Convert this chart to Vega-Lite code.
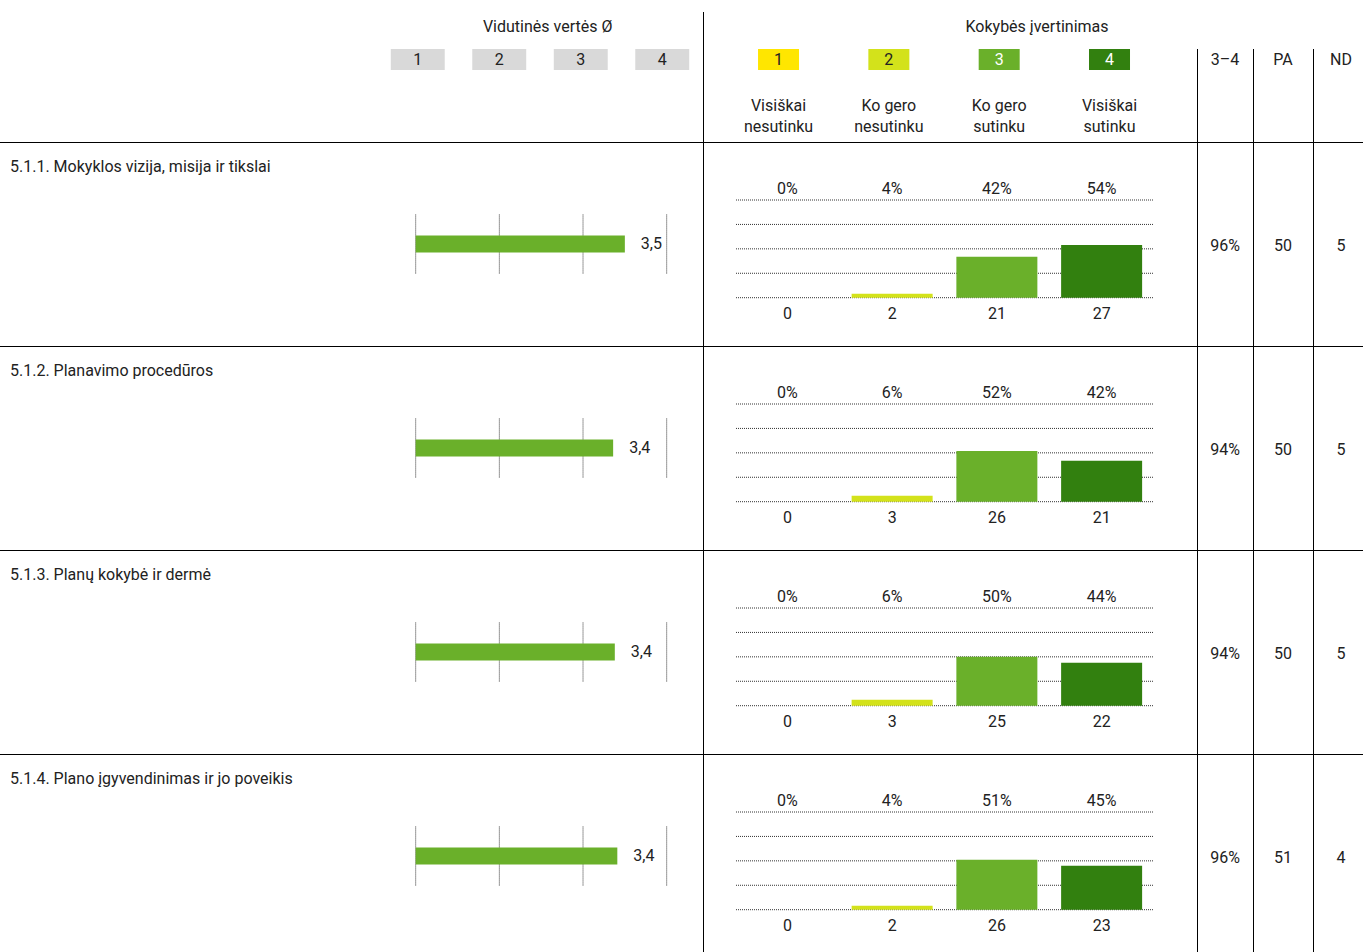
{
  "$schema": "https://vega.github.io/schema/vega-lite/v6.json",
  "padding": 0,
  "background": "#ffffff",
  "spacing": 0,
  "config": {
    "view": {"stroke": null},
    "font": "Roboto",
    "text": {"font": "Roboto", "fontSize": 16, "color": "#222222"},
    "rect": {"color": "#000000"}
  },
  "datasets": {
    "headers": [
      {"left": "Vidutinės vertės Ø", "right": "Kokybės įvertinimas", "h34": "3–4", "hpa": "PA", "hnd": "ND"}
    ],
    "levels": [
      {"rating": 1, "name": ["Visiškai", "nesutinku"]},
      {"rating": 2, "name": ["Ko gero", "nesutinku"]},
      {"rating": 3, "name": ["Ko gero", "sutinku"]},
      {"rating": 4, "name": ["Visiškai", "sutinku"]}
    ],
    "items": [
      {"item": "5.1.1", "label": "5.1.1. Mokyklos vizija, misija ir tikslai", "mean": 3.5, "meanLabel": "3,5", "share34": "96%", "pa": 50, "nd": 5},
      {"item": "5.1.2", "label": "5.1.2. Planavimo procedūros", "mean": 3.36, "meanLabel": "3,4", "share34": "94%", "pa": 50, "nd": 5},
      {"item": "5.1.3", "label": "5.1.3. Planų kokybė ir dermė", "mean": 3.38, "meanLabel": "3,4", "share34": "94%", "pa": 50, "nd": 5},
      {"item": "5.1.4", "label": "5.1.4. Plano įgyvendinimas ir jo poveikis", "mean": 3.41, "meanLabel": "3,4", "share34": "96%", "pa": 51, "nd": 4}
    ],
    "ratings": [
      {"item": "5.1.1", "rating": 1, "n": 0, "pct": 0, "pctLabel": "0%"},
      {"item": "5.1.1", "rating": 2, "n": 2, "pct": 4, "pctLabel": "4%"},
      {"item": "5.1.1", "rating": 3, "n": 21, "pct": 42, "pctLabel": "42%"},
      {"item": "5.1.1", "rating": 4, "n": 27, "pct": 54, "pctLabel": "54%"},
      {"item": "5.1.2", "rating": 1, "n": 0, "pct": 0, "pctLabel": "0%"},
      {"item": "5.1.2", "rating": 2, "n": 3, "pct": 6, "pctLabel": "6%"},
      {"item": "5.1.2", "rating": 3, "n": 26, "pct": 52, "pctLabel": "52%"},
      {"item": "5.1.2", "rating": 4, "n": 21, "pct": 42, "pctLabel": "42%"},
      {"item": "5.1.3", "rating": 1, "n": 0, "pct": 0, "pctLabel": "0%"},
      {"item": "5.1.3", "rating": 2, "n": 3, "pct": 6, "pctLabel": "6%"},
      {"item": "5.1.3", "rating": 3, "n": 25, "pct": 50, "pctLabel": "50%"},
      {"item": "5.1.3", "rating": 4, "n": 22, "pct": 44, "pctLabel": "44%"},
      {"item": "5.1.4", "rating": 1, "n": 0, "pct": 0, "pctLabel": "0%"},
      {"item": "5.1.4", "rating": 2, "n": 2, "pct": 4, "pctLabel": "4%"},
      {"item": "5.1.4", "rating": 3, "n": 26, "pct": 51, "pctLabel": "51%"},
      {"item": "5.1.4", "rating": 4, "n": 23, "pct": 45, "pctLabel": "45%"}
    ]
  },
  "vconcat": [
    {
      "spacing": 0,
      "bounds": "flush",
      "hconcat": [
        {
          "width": 703, "height": 49,
          "data": {"name": "headers"},
          "mark": {"type": "text", "dy": 2},
          "encoding": {
            "x": {"datum": 2.59, "type": "quantitative", "scale": {"domain": [-4.124, 4.494], "nice": false, "zero": false}, "axis": null},
            "text": {"field": "left", "type": "nominal"}}
        },
        {
          "width": 660, "height": 49,
          "data": {"name": "headers"},
          "layer": [
            {"mark": {"type": "text", "dy": 2, "dx": 4},
             "encoding": {"text": {"field": "right", "type": "nominal"}}},
            {"mark": {"type": "rect", "x2Offset": 1},
             "encoding": {"x": {"value": 0}, "x2": {"value": 0}, "y": {"value": 12}, "y2": {"value": "height"}}}
          ]
        }
      ]
    },
    {
      "spacing": 0,
      "bounds": "flush",
      "hconcat": [
        {
          "width": 377, "height": 21,
          "data": {"name": "headers"},
          "mark": {"type": "text"},
          "encoding": {"text": {"value": ""}}
        },
        {
          "width": 326, "height": 21,
          "data": {"name": "levels"},
          "encoding": {
            "x": {"field": "rating", "type": "ordinal", "scale": {"type": "band", "paddingInner": 0.338, "paddingOuter": 0.169}, "axis": null}
          },
          "layer": [
            {"mark": {"type": "bar", "color": "#d9d9d9"}},
            {"mark": {"type": "text"}, "encoding": {"text": {"field": "rating", "type": "nominal"}}}
          ]
        },
        {
          "width": 494, "height": 21,
          "data": {"name": "levels"},
          "layer": [
            {"mark": {"type": "bar"},
             "encoding": {
               "x": {"field": "rating", "type": "ordinal", "scale": {"type": "band", "paddingInner": 0.6284, "paddingOuter": 0.553, "align": 0.451}, "axis": null},
               "color": {"field": "rating", "type": "ordinal", "scale": {"domain": [1, 2, 3, 4], "range": ["#ffe600", "#d3e21b", "#6ab02a", "#32800f"]}, "legend": null}}},
            {"mark": {"type": "text"},
             "encoding": {
               "x": {"field": "rating", "type": "ordinal", "axis": null},
               "text": {"field": "rating", "type": "nominal"},
               "color": {"condition": {"test": "datum.rating >= 3", "value": "#ffffff"}, "value": "#222222"}}},
            {"transform": [{"filter": "datum.rating == 1"}],
             "mark": {"type": "rect", "x2Offset": 1},
             "encoding": {"x": {"value": 0}, "x2": {"value": 0}, "y": {"value": 0}, "y2": {"value": "height"}}}
          ]
        },
        {
          "width": 56, "height": 21,
          "data": {"name": "headers"},
          "layer": [
            {"mark": {"type": "text"}, "encoding": {"text": {"field": "h34", "type": "nominal"}}},
            {"mark": {"type": "rect", "x2Offset": 1}, "encoding": {"x": {"value": 0}, "x2": {"value": 0}, "y": {"value": 0}, "y2": {"value": "height"}}}
          ]
        },
        {
          "width": 60, "height": 21,
          "data": {"name": "headers"},
          "layer": [
            {"mark": {"type": "text"}, "encoding": {"text": {"field": "hpa", "type": "nominal"}}},
            {"mark": {"type": "rect", "x2Offset": 1}, "encoding": {"x": {"value": 0}, "x2": {"value": 0}, "y": {"value": 0}, "y2": {"value": "height"}}}
          ]
        },
        {
          "width": 50, "height": 21,
          "data": {"name": "headers"},
          "layer": [
            {"mark": {"type": "text", "dx": 3}, "encoding": {"text": {"field": "hnd", "type": "nominal"}}},
            {"mark": {"type": "rect", "x2Offset": 1}, "encoding": {"x": {"value": 0}, "x2": {"value": 0}, "y": {"value": 0}, "y2": {"value": "height"}}}
          ]
        }
      ]
    },
    {
      "spacing": 0,
      "bounds": "flush",
      "hconcat": [
        {
          "width": 703, "height": 72,
          "data": {"name": "headers"},
          "mark": {"type": "text"},
          "encoding": {"text": {"value": ""}}
        },
        {
          "width": 494, "height": 72,
          "data": {"name": "levels"},
          "layer": [
            {"mark": {"type": "text", "lineHeight": 21},
             "encoding": {
               "x": {"field": "rating", "type": "ordinal", "scale": {"type": "band", "paddingInner": 0.6284, "paddingOuter": 0.553, "align": 0.451}, "axis": null},
               "text": {"field": "name", "type": "nominal"}}},
            {"transform": [{"filter": "datum.rating == 1"}],
             "mark": {"type": "rect", "x2Offset": 1},
             "encoding": {"x": {"value": 0}, "x2": {"value": 0}, "y": {"value": 0}, "y2": {"value": "height"}}}
          ]
        },
        {
          "width": 56, "height": 72,
          "data": {"name": "headers"},
          "mark": {"type": "rect", "x2Offset": 1},
          "encoding": {"x": {"value": 0}, "x2": {"value": 0}, "y": {"value": 0}, "y2": {"value": "height"}}
        },
        {
          "width": 60, "height": 72,
          "data": {"name": "headers"},
          "mark": {"type": "rect", "x2Offset": 1},
          "encoding": {"x": {"value": 0}, "x2": {"value": 0}, "y": {"value": 0}, "y2": {"value": "height"}}
        },
        {
          "width": 50, "height": 72,
          "data": {"name": "headers"},
          "mark": {"type": "rect", "x2Offset": 1},
          "encoding": {"x": {"value": 0}, "x2": {"value": 0}, "y": {"value": 0}, "y2": {"value": "height"}}
        }
      ]
    },
    {
      "spacing": 0,
      "hconcat": [
        {
          "data": {"name": "ratings"},
          "transform": [{"lookup": "item", "from": {"data": {"name": "items"}, "key": "item", "fields": ["label", "mean", "meanLabel"]}}],
          "facet": {"row": {"field": "item", "type": "nominal", "header": null}},
          "spacing": 0,
          "bounds": "flush",
          "spec": {
            "width": 703, "height": 204,
            "layer": [
              {"mark": {"type": "rule", "strokeDash": [1, 1], "color": "#333333"},
               "encoding": {
                 "x": {"field": "rating", "type": "quantitative", "scale": {"domain": [-3.968, 4.434], "nice": false, "zero": false}, "axis": null},
                 "y": {"datum": -0.5, "type": "quantitative", "scale": {"domain": [-1.645, 1.645], "nice": false, "zero": false}, "axis": null},
                 "y2": {"datum": 0.5}}},
              {"transform": [{"filter": "datum.rating == 1"}],
               "mark": {"type": "bar", "height": 17, "color": "#6ab02a", "orient": "horizontal"},
               "encoding": {
                 "x": {"field": "mean", "type": "quantitative"},
                 "x2": {"datum": 1},
                 "y": {"datum": 0, "type": "quantitative"}}},
              {"transform": [{"filter": "datum.rating == 1"}],
               "mark": {"type": "text", "align": "left", "dx": 16},
               "encoding": {
                 "x": {"field": "mean", "type": "quantitative"},
                 "y": {"datum": 0, "type": "quantitative"},
                 "text": {"field": "meanLabel", "type": "nominal"}}},
              {"transform": [{"filter": "datum.rating == 1"}],
               "mark": {"type": "text", "align": "left", "dx": 10, "dy": 25},
               "encoding": {"x": {"value": 0}, "y": {"value": 0}, "text": {"field": "label", "type": "nominal"}}},
              {"transform": [{"filter": "datum.rating == 1"}],
               "mark": {"type": "rect", "y2Offset": 1},
               "encoding": {"x": {"value": 0}, "x2": {"value": "width"}, "y": {"value": 0}, "y2": {"value": 0}}}
            ]
          }
        },
        {
          "data": {"name": "items"},
          "facet": {"row": {"field": "item", "type": "nominal", "header": null}},
          "spacing": 0,
          "bounds": "flush",
          "spec": {
            "width": 32, "height": 204,
            "layer": [
              {"mark": {"type": "rect", "y2Offset": 1},
               "encoding": {"x": {"value": 0}, "x2": {"value": "width"}, "y": {"value": 0}, "y2": {"value": 0}}},
              {"mark": {"type": "rect", "x2Offset": 1},
               "encoding": {"x": {"value": 0}, "x2": {"value": 0}, "y": {"value": 0}, "y2": {"value": "height"}}}
            ]
          }
        },
        {
          "data": {"name": "ratings"},
          "facet": {"row": {"field": "item", "type": "nominal", "header": null}},
          "spacing": 0,
          "bounds": "flush",
          "spec": {
            "width": 419, "height": 204,
            "layer": [
              {"transform": [{"filter": "datum.rating == 1"}],
               "mark": {"type": "rule", "strokeDash": [1, 1], "color": "#333333", "xOffset": 1, "x2Offset": -1},
               "encoding": {"x": {"value": 0}, "x2": {"value": "width"}, "y": {"datum": 0, "type": "quantitative", "scale": {"domain": [-49.44, 159.37], "nice": false, "zero": false}, "axis": null}}},
              {"transform": [{"filter": "datum.rating == 1"}],
               "mark": {"type": "rule", "strokeDash": [1, 1], "color": "#333333", "xOffset": 1, "x2Offset": -1},
               "encoding": {"x": {"value": 0}, "x2": {"value": "width"}, "y": {"datum": 25, "type": "quantitative", "axis": null}}},
              {"transform": [{"filter": "datum.rating == 1"}],
               "mark": {"type": "rule", "strokeDash": [1, 1], "color": "#333333", "xOffset": 1, "x2Offset": -1},
               "encoding": {"x": {"value": 0}, "x2": {"value": "width"}, "y": {"datum": 50, "type": "quantitative", "axis": null}}},
              {"transform": [{"filter": "datum.rating == 1"}],
               "mark": {"type": "rule", "strokeDash": [1, 1], "color": "#333333", "xOffset": 1, "x2Offset": -1},
               "encoding": {"x": {"value": 0}, "x2": {"value": "width"}, "y": {"datum": 75, "type": "quantitative", "axis": null}}},
              {"transform": [{"filter": "datum.rating == 1"}],
               "mark": {"type": "rule", "strokeDash": [1, 1], "color": "#333333", "xOffset": 1, "x2Offset": -1},
               "encoding": {"x": {"value": 0}, "x2": {"value": "width"}, "y": {"datum": 100, "type": "quantitative", "axis": null}}},
              {"mark": {"type": "bar"},
               "encoding": {
                 "x": {"field": "rating", "type": "ordinal", "scale": {"paddingInner": 0.2267, "paddingOuter": 0.1134}, "axis": null},
                 "y": {"field": "pct", "type": "quantitative", "axis": null},
                 "y2": {"datum": 0},
                 "color": {"field": "rating", "type": "ordinal", "scale": {"domain": [1, 2, 3, 4], "range": ["#ffe600", "#d3e21b", "#6ab02a", "#32800f"]}, "legend": null}}},
              {"mark": {"type": "text", "dy": -11},
               "encoding": {
                 "x": {"field": "rating", "type": "ordinal", "axis": null},
                 "y": {"datum": 100, "type": "quantitative", "axis": null},
                 "text": {"field": "pctLabel", "type": "nominal"}}},
              {"mark": {"type": "text", "dy": 16.5},
               "encoding": {
                 "x": {"field": "rating", "type": "ordinal", "axis": null},
                 "y": {"datum": 0, "type": "quantitative", "axis": null},
                 "text": {"field": "n", "type": "nominal"}}},
              {"transform": [{"filter": "datum.rating == 1"}],
               "mark": {"type": "rect", "y2Offset": 1},
               "encoding": {"x": {"value": 0}, "x2": {"value": "width"}, "y": {"value": 0}, "y2": {"value": 0}}}
            ]
          }
        },
        {
          "data": {"name": "items"},
          "facet": {"row": {"field": "item", "type": "nominal", "header": null}},
          "spacing": 0,
          "bounds": "flush",
          "spec": {
            "width": 43, "height": 204,
            "mark": {"type": "rect", "y2Offset": 1},
            "encoding": {"x": {"value": 0}, "x2": {"value": "width"}, "y": {"value": 0}, "y2": {"value": 0}}
          }
        },
        {
          "data": {"name": "items"},
          "facet": {"row": {"field": "item", "type": "nominal", "header": null}},
          "spacing": 0,
          "bounds": "flush",
          "spec": {
            "width": 56, "height": 204,
            "layer": [
              {"mark": {"type": "text", "dy": 1.5}, "encoding": {"text": {"field": "share34", "type": "nominal"}}},
              {"mark": {"type": "rect", "y2Offset": 1}, "encoding": {"x": {"value": 0}, "x2": {"value": "width"}, "y": {"value": 0}, "y2": {"value": 0}}},
              {"mark": {"type": "rect", "x2Offset": 1}, "encoding": {"x": {"value": 0}, "x2": {"value": 0}, "y": {"value": 0}, "y2": {"value": "height"}}}
            ]
          }
        },
        {
          "data": {"name": "items"},
          "facet": {"row": {"field": "item", "type": "nominal", "header": null}},
          "spacing": 0,
          "bounds": "flush",
          "spec": {
            "width": 60, "height": 204,
            "layer": [
              {"mark": {"type": "text", "dy": 1.5}, "encoding": {"text": {"field": "pa", "type": "nominal"}}},
              {"mark": {"type": "rect", "y2Offset": 1}, "encoding": {"x": {"value": 0}, "x2": {"value": "width"}, "y": {"value": 0}, "y2": {"value": 0}}},
              {"mark": {"type": "rect", "x2Offset": 1}, "encoding": {"x": {"value": 0}, "x2": {"value": 0}, "y": {"value": 0}, "y2": {"value": "height"}}}
            ]
          }
        },
        {
          "data": {"name": "items"},
          "facet": {"row": {"field": "item", "type": "nominal", "header": null}},
          "spacing": 0,
          "bounds": "flush",
          "spec": {
            "width": 50, "height": 204,
            "layer": [
              {"mark": {"type": "text", "dy": 1.5, "dx": 3}, "encoding": {"text": {"field": "nd", "type": "nominal"}}},
              {"mark": {"type": "rect", "y2Offset": 1}, "encoding": {"x": {"value": 0}, "x2": {"value": "width"}, "y": {"value": 0}, "y2": {"value": 0}}},
              {"mark": {"type": "rect", "x2Offset": 1}, "encoding": {"x": {"value": 0}, "x2": {"value": 0}, "y": {"value": 0}, "y2": {"value": "height"}}}
            ]
          }
        }
      ]
    }
  ]
}
